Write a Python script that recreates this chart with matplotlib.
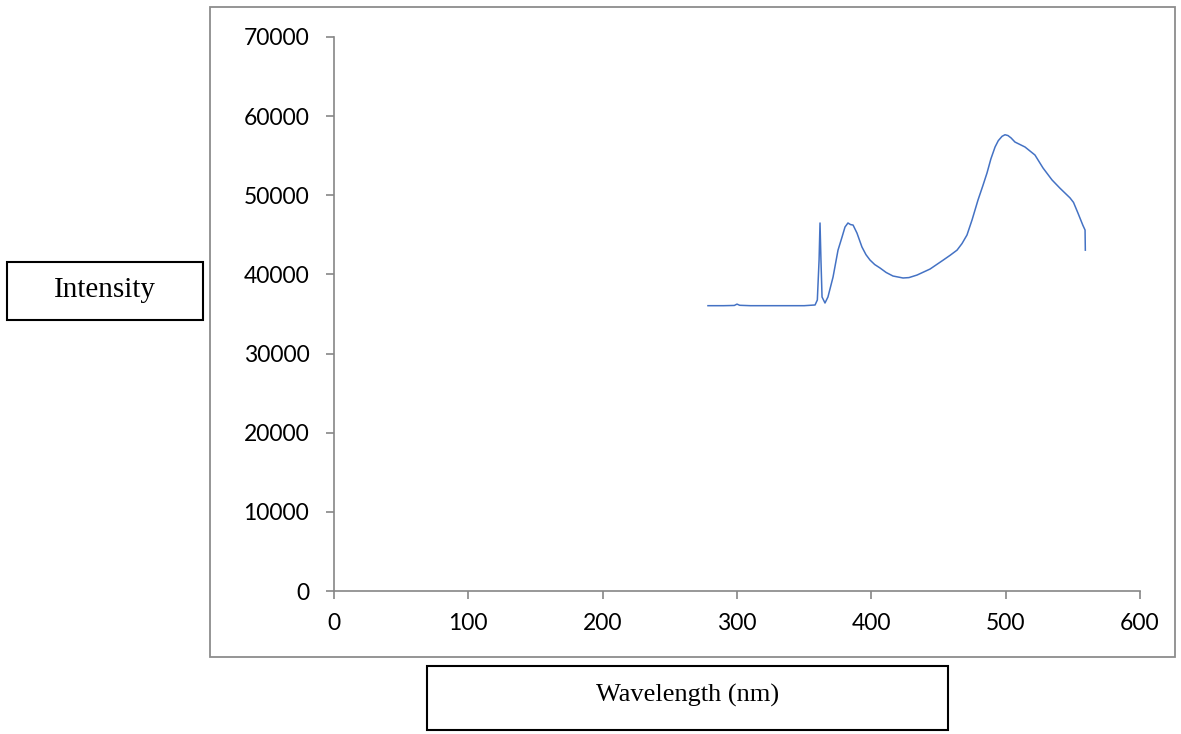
import matplotlib.pyplot as plt
from matplotlib.patches import Rectangle

# --- Data ---
wavelength = [278.4, 290.0, 298.0, 300.0, 302.0, 310.0, 330.0, 350.0, 358.1, 359.8,
              361.1, 361.8, 362.5, 363.3, 365.5, 367.7, 371.5, 375.2, 378.2, 380.4,
              382.6, 384.5, 386.4, 389.3, 393.0, 396.0, 399.0, 402.5, 406.5, 411.0,
              416.1, 423.6, 428.0, 434.0, 443.7, 453.4, 458.5, 463.8, 467.5, 471.2,
              475.0, 479.4, 483.0, 486.1, 489.0, 492.1, 494.5, 497.3, 499.5, 501.7,
              504.0, 506.9, 514.4, 521.8, 527.8, 534.5, 540.4, 547.9, 550.5, 553.8,
              557.5, 559.1, 559.3]
intensity = [36050, 36050, 36080, 36250, 36100, 36050, 36050, 36050, 36140, 36770,
             41820, 46500, 41820, 37150, 36390, 37150, 39670, 43070, 44730, 45990,
             46500, 46300, 46240, 45230, 43470, 42500, 41820, 41250, 40810, 40250,
             39800, 39550, 39600, 39920, 40680, 41800, 42400, 43070, 43900, 44980,
             46900, 49400, 51200, 52815, 54600, 56100, 56900, 57450, 57650, 57550,
             57250, 56730, 56100, 55090, 53450, 51940, 50900, 49670, 49100, 47760,
             46200, 45610, 43070]

x_ticks = [0, 100, 200, 300, 400, 500, 600]
y_ticks = [0, 10000, 20000, 30000, 40000, 50000, 60000, 70000]

W, H = 1181, 734
fig = plt.figure(figsize=(W / 100, H / 100), dpi=100)

axis_grey = '#868686'

# outer chart border
fig.patches.append(Rectangle((210 / W, 1 - 657 / H), (1175 - 210) / W, (657 - 7) / H,
                             transform=fig.transFigure, fill=False,
                             edgecolor='#8c8c8c', linewidth=1.3))

ax = fig.add_axes([334 / W, 1 - 591 / H, (1140 - 334) / W, (591 - 37) / H])
ax.plot(wavelength, intensity, color='#4472C4', linewidth=1.1)

ax.set_xlim(0, 600)
ax.set_ylim(0, 70000)
ax.set_xticks(x_ticks)
ax.set_yticks(y_ticks)
ax.set_xticklabels([str(v) for v in x_ticks])
ax.set_yticklabels([str(v) for v in y_ticks])
for s in ['top', 'right']:
    ax.spines[s].set_visible(False)
for s in ['left', 'bottom']:
    ax.spines[s].set_color(axis_grey)
    ax.spines[s].set_linewidth(1.2)
ax.tick_params(axis='both', direction='out', length=5.8, width=1.2, color=axis_grey,
               labelsize=16.5, labelcolor='black')
ax.tick_params(axis='y', pad=12)
ax.tick_params(axis='x', pad=10)
for lab in ax.get_xticklabels() + ax.get_yticklabels():
    lab.set_fontfamily('Lato')

# axis-title boxes
fig.patches.append(Rectangle((7 / W, 1 - 320 / H), (203 - 7) / W, (320 - 262) / H,
                             transform=fig.transFigure, fill=False,
                             edgecolor='black', linewidth=1.5))
fig.text(105 / W, 1 - 290 / H, 'Intensity', ha='center', va='center',
         fontsize=21, family='Liberation Serif')

fig.patches.append(Rectangle((427 / W, 1 - 730 / H), (948 - 427) / W, (730 - 666) / H,
                             transform=fig.transFigure, fill=False,
                             edgecolor='black', linewidth=1.5))
fig.text(687.5 / W, 1 - 695 / H, 'Wavelength (nm)', ha='center', va='center',
         fontsize=19, family='Liberation Serif')

fig.savefig('out.png', dpi=100)
